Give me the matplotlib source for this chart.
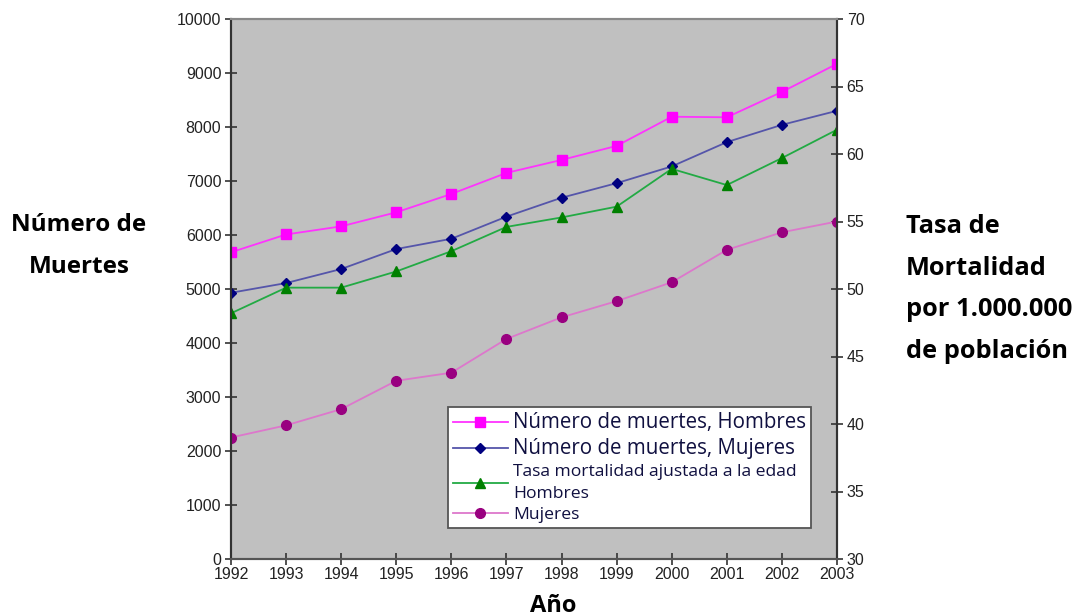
import matplotlib
matplotlib.use("Agg")
import matplotlib.pyplot as plt
from matplotlib.ticker import MultipleLocator

years = [1992, 1993, 1994, 1995, 1996, 1997, 1998, 1999, 2000, 2001, 2002, 2003]
muertes_hombres = [5680, 6010, 6160, 6420, 6760, 7150, 7390, 7650, 8190, 8180, 8650, 9170]
muertes_mujeres = [4930, 5110, 5370, 5740, 5930, 6340, 6690, 6960, 7270, 7720, 8040, 8300]
tasa_hombres = [48.2, 50.1, 50.1, 51.3, 52.8, 54.6, 55.3, 56.1, 58.9, 57.7, 59.7, 61.8]
tasa_mujeres = [39.0, 39.9, 41.1, 43.2, 43.8, 46.3, 47.9, 49.1, 50.5, 52.9, 54.2, 55.0]

labels = [
    "Número de muertes, Hombres",
    "Número de muertes, Mujeres",
    "Tasa mortalidad ajustada a la edad\nHombres",
    "Mujeres",
]

tick_font = "Liberation Sans"
label_font = "Open Sans"

fig = plt.figure(figsize=(10.77, 6.16), dpi=100)
ax = fig.add_axes([231 / 1077, 1 - 559 / 616, (837 - 231) / 1077, (559 - 19) / 616])
ax.set_facecolor("#c0c0c0")
ax2 = ax.twinx()

l1, = ax.plot(years, muertes_hombres, color="#ff33ff", lw=1.3, marker="s", ms=7,
              mfc="#ff00ff", mec="#ff00ff")
l2, = ax.plot(years, muertes_mujeres, color="#5555aa", lw=1.3, marker="D", ms=5,
              mfc="#000080", mec="#000080")
l3, = ax2.plot(years, tasa_hombres, color="#22aa44", lw=1.3, marker="^", ms=7,
               mfc="#008000", mec="#008000")
l4, = ax2.plot(years, tasa_mujeres, color="#dd77cc", lw=1.3, marker="o", ms=7,
               mfc="#990080", mec="#990080")

ax.set_xlim(1992, 2003)
ax.set_ylim(0, 10000)
ax2.set_ylim(30, 70)
ax.set_xticks(years)
ax.yaxis.set_major_locator(MultipleLocator(1000))
ax2.yaxis.set_major_locator(MultipleLocator(5))

for a in (ax, ax2):
    a.tick_params(direction="inout", length=8, width=1.2, colors="#333333",
                  labelsize=11.5, labelcolor="#222222")
    for lab in a.get_xticklabels() + a.get_yticklabels():
        lab.set_fontfamily(tick_font)
ax.tick_params(axis="x", pad=2)
ax.tick_params(axis="y", pad=3)
ax2.tick_params(axis="y", pad=3)

for a in (ax, ax2):
    a.spines["left"].set_color("#333333")
    a.spines["right"].set_color("#333333")
    a.spines["left"].set_linewidth(1.5)
    a.spines["right"].set_linewidth(1.5)
    a.spines["top"].set_color("#888888")
    a.spines["bottom"].set_color("#555555")
    a.spines["top"].set_linewidth(1.5)
    a.spines["bottom"].set_linewidth(1.5)

leg = ax2.legend([l1, l2, l3, l4], labels, loc="lower right",
                 bbox_to_anchor=(0.957, 0.057), frameon=True, fancybox=False,
                 edgecolor="#555555", framealpha=1, borderpad=0.3,
                 labelspacing=0.3, handlelength=3.3, handletextpad=0.3,
                 borderaxespad=0.0, prop={"family": label_font, "size": 12})
leg.get_frame().set_linewidth(1.3)
texts = leg.get_texts()
texts[0].set_fontsize(14.8)
texts[1].set_fontsize(14.8)
texts[2].set_fontsize(12.6)
texts[3].set_fontsize(12.6)
texts[2].set_linespacing(1.5)
for t in texts:
    t.set_color("#101040")

fig.text(79 / 1077, 1 - 246 / 616, "Número de\nMuertes", ha="center", va="center",
         fontfamily=label_font, fontweight="bold", fontsize=17.5, linespacing=2.0)
fig.text(906 / 1077, 1 - 289 / 616, "Tasa de\nMortalidad\npor 1.000.000\nde población",
         ha="left", va="center", fontfamily=label_font, fontweight="bold",
         fontsize=18.3, linespacing=1.86)
fig.text(553 / 1077, 1 - 606 / 616, "Año", ha="center", va="center",
         fontfamily=label_font, fontweight="bold", fontsize=17)

fig.savefig("out.png", dpi=100)
